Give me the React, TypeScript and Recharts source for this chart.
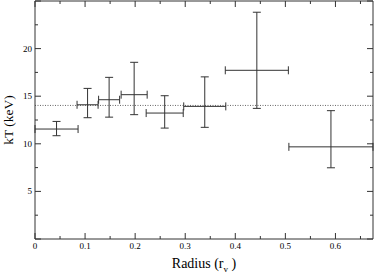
//@ts-nocheck

import React from 'react';
import { ComposedChart, Scatter, ErrorBar, XAxis, YAxis, ReferenceLine, Label } from 'recharts';

// radial bins (units of r_v): centre and half-width
const radiusCentres = [0.043, 0.105, 0.148, 0.198, 0.259, 0.339, 0.443, 0.591];
const radiusHalfWidths = [0.043, 0.021, 0.021, 0.026, 0.037, 0.042, 0.063, 0.084];
// temperature (keV) with lower / upper errors
const kT = [11.55, 14.1, 14.63, 15.16, 13.23, 13.93, 17.72, 9.68];
const kTErrLow = [0.7, 1.36, 1.83, 2.1, 1.58, 2.2, 4.0, 2.2];
const kTErrHigh = [0.8, 1.72, 2.35, 3.4, 1.82, 3.1, 6.1, 3.8];
const meanKT = 14.03;

const xTicks = [0, 0.05, 0.1, 0.15, 0.2, 0.25, 0.3, 0.35, 0.4, 0.45, 0.5, 0.55, 0.6, 0.65];
const yTicks = [0, 2.5, 5, 7.5, 10, 12.5, 15, 17.5, 20, 22.5, 25];
const yLabelled = [5, 10, 15, 20];

const data = radiusCentres.map((r, i) => ({
    r,
    kT: kT[i],
    ex: radiusHalfWidths[i],
    ey: [kTErrLow[i], kTErrHigh[i]],
}));

const ink = '#333';
const serif = 'Liberation Serif';

const isMajorX = (v) => Math.abs(v * 10 - Math.round(v * 10)) < 1e-6;
const isMajorY = (v) => Math.abs(v / 5 - Math.round(v / 5)) < 1e-6;

const BottomTick = ({ x, y, payload }) => {
    const v = payload.value;
    const major = isMajorX(v);
    return (
        <g>
            <line x1={x} x2={x} y1={y} y2={y - (major ? 6 : 3)} stroke={ink} />
            {major && (
                <text x={x} y={y + 10} textAnchor="middle" fontSize={9} fontFamily={serif} fill="#000">
                    {v === 0 ? '0' : v.toFixed(1)}
                </text>
            )}
        </g>
    );
};

const TopTick = ({ x, y, payload }) => {
    const major = isMajorX(payload.value);
    return <line x1={x} x2={x} y1={y} y2={y + (major ? 6 : 3)} stroke={ink} />;
};

const LeftTick = ({ x, y, payload }) => {
    const v = payload.value;
    const major = isMajorY(v);
    return (
        <g>
            <line x1={x} x2={x + (major ? 6 : 3)} y1={y} y2={y} stroke={ink} />
            {yLabelled.includes(v) && (
                <text x={x - 3} y={y + 3} textAnchor="end" fontSize={9} fontFamily={serif} fill="#000">
                    {v}
                </text>
            )}
        </g>
    );
};

const RightTick = ({ x, y, payload }) => {
    const major = isMajorY(payload.value);
    return <line x1={x} x2={x - (major ? 6 : 3)} y1={y} y2={y} stroke={ink} />;
};

const RadiusLabel = ({ viewBox }) => {
    const cx = viewBox.x + viewBox.width / 2;
    return (
        <text x={cx} y={viewBox.y + 29} textAnchor="middle" fontSize={14} fontFamily={serif} fill="#000">
            Radius (r
            <tspan fontSize={9} dy={4}>v</tspan>
            <tspan dy={-4}> )</tspan>
        </text>
    );
};

const KTLabel = ({ viewBox }) => {
    const cy = viewBox.y + viewBox.height / 2;
    return (
        <text
            x={13}
            y={cy}
            transform={`rotate(-90, 13, ${cy})`}
            textAnchor="middle"
            fontSize={13.5}
            fontFamily={serif}
            fill="#000"
        >
            kT (keV)
        </text>
    );
};

const App = () => {
    return (
        <div style={{ position: 'absolute', left: 0, top: 0, background: '#fff' }}>
            <ComposedChart width={376} height={275} data={data} margin={{ top: 0, right: 2, left: 0, bottom: 0 }}>
                <XAxis
                    xAxisId="bottom"
                    dataKey="r"
                    type="number"
                    domain={[0, 0.675]}
                    allowDataOverflow
                    ticks={xTicks}
                    interval={0}
                    tickSize={0}
                    tickMargin={0}
                    tickLine={false}
                    tick={BottomTick}
                    axisLine={{ stroke: ink }}
                    height={36}
                >
                    <Label content={RadiusLabel} />
                </XAxis>
                <XAxis
                    xAxisId="top"
                    orientation="top"
                    dataKey="r"
                    type="number"
                    domain={[0, 0.675]}
                    allowDataOverflow
                    ticks={xTicks}
                    interval={0}
                    tickSize={0}
                    tickMargin={0}
                    tickLine={false}
                    tick={TopTick}
                    axisLine={{ stroke: ink }}
                    height={1}
                />
                <YAxis
                    yAxisId="left"
                    type="number"
                    domain={[0, 25]}
                    allowDataOverflow
                    ticks={yTicks}
                    interval={0}
                    tickSize={0}
                    tickMargin={0}
                    tickLine={false}
                    tick={LeftTick}
                    axisLine={{ stroke: ink }}
                    width={35}
                >
                    <Label content={KTLabel} />
                </YAxis>
                <YAxis
                    yAxisId="right"
                    orientation="right"
                    type="number"
                    domain={[0, 25]}
                    allowDataOverflow
                    ticks={yTicks}
                    interval={0}
                    tickSize={0}
                    tickMargin={0}
                    tickLine={false}
                    tick={RightTick}
                    axisLine={{ stroke: ink }}
                    width={1}
                />
                <ReferenceLine
                    xAxisId="bottom"
                    yAxisId="left"
                    y={meanKT}
                    stroke="#666"
                    strokeDasharray="1 1.5"
                />
                <Scatter
                    xAxisId="top"
                    yAxisId="right"
                    dataKey="kT"
                    isAnimationActive={false}
                    shape={() => <g />}
                />
                <Scatter
                    xAxisId="bottom"
                    yAxisId="left"
                    dataKey="kT"
                    isAnimationActive={false}
                    shape={() => <g />}
                >
                    <ErrorBar dataKey="ey" direction="y" width={4} stroke={ink} strokeWidth={1} isAnimationActive={false} />
                    <ErrorBar dataKey="ex" direction="x" width={4} stroke={ink} strokeWidth={1} isAnimationActive={false} />
                </Scatter>
            </ComposedChart>
        </div>
    );
};

export default App;
